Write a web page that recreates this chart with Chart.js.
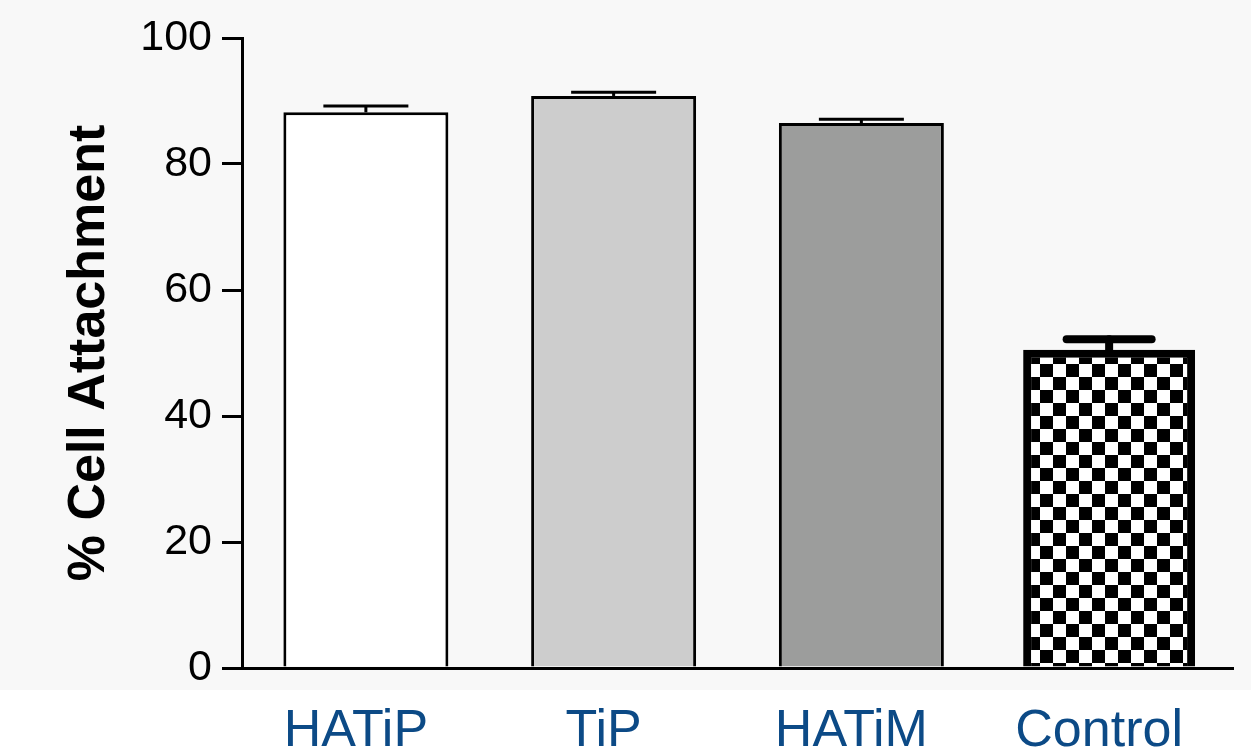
<!DOCTYPE html>
<html>
<head>
<meta charset="utf-8">
<title>% Cell Attachment</title>
<script src="https://cdn.jsdelivr.net/npm/chart.js@4.4.1/dist/chart.umd.min.js"></script>
<style>
  html, body { margin: 0; padding: 0; background: #ffffff; }
  #wrap { width: 1251px; height: 751px; }
</style>
</head>
<body>
<div id="wrap"><canvas id="chart" width="1251" height="751"></canvas></div>
<script>
// Surfaces tested and the share of cells attached to each (mean with upper SEM)
const categories = ['HATiP', 'TiP', 'HATiM', 'Control'];
const meanAttachment = [88.2, 90.8, 86.5, 50.5];
const upperError = [89.2, 91.4, 87.1, 52.2];
const yTicks = [0, 20, 40, 60, 80, 100];

const FONT = "'Liberation Sans', Arial, Helvetica, sans-serif";

// Black and white checkerboard for the control bar
function checkerPattern(size) {
  const c = document.createElement('canvas');
  c.width = size * 2;
  c.height = size * 2;
  const g = c.getContext('2d');
  g.fillStyle = '#ffffff';
  g.fillRect(0, 0, size * 2, size * 2);
  g.fillStyle = '#000000';
  g.fillRect(0, 0, size, size);
  g.fillRect(size, size, size, size);
  return g.createPattern(c, 'repeat');
}

const checker = checkerPattern(13);

// The three surfaces and the control are separate datasets
// so that the control can carry its own thicker outline.
const surfaceValues = meanAttachment.map((v, i) => (i < 3 ? v : null));
const controlValues = meanAttachment.map((v, i) => (i === 3 ? v : null));

const pageBackground = {
  id: 'pageBackground',
  beforeDraw(chart) {
    const { ctx, width, height } = chart;
    ctx.save();
    ctx.fillStyle = '#ffffff';
    ctx.fillRect(0, 0, width, height);
    ctx.fillStyle = '#f8f8f8';
    ctx.fillRect(0, 0, width, 690);
    ctx.restore();
  }
};

// Upper error bars: stem from the bar top to a cap at the error value
const errorBars = {
  id: 'errorBars',
  afterDatasetsDraw(chart) {
    const { ctx } = chart;
    const yScale = chart.scales.y;
    chart.data.datasets.forEach((ds, di) => {
      const meta = chart.getDatasetMeta(di);
      meta.data.forEach((bar, i) => {
        if (ds.data[i] == null) return;
        const top = yScale.getPixelForValue(upperError[i]);
        const half = 42.5;
        ctx.save();
        ctx.strokeStyle = '#000000';
        ctx.lineWidth = ds.errorWidth;
        ctx.lineCap = ds.errorCap;
        ctx.beginPath();
        ctx.moveTo(bar.x, bar.y);
        ctx.lineTo(bar.x, top);
        ctx.stroke();
        ctx.beginPath();
        ctx.moveTo(bar.x - half, top);
        ctx.lineTo(bar.x + half, top);
        ctx.stroke();
        ctx.restore();
      });
    });
  }
};

new Chart(document.getElementById('chart'), {
  type: 'bar',
  data: {
    labels: categories,
    datasets: [
      {
        data: surfaceValues,
        backgroundColor: ['#ffffff', '#cdcdcd', '#9c9d9c', '#ffffff'],
        borderColor: '#000000',
        borderWidth: 3,
        barPercentage: 0.666,
        categoryPercentage: 1,
        grouped: false,
        errorWidth: 3,
        errorCap: 'butt'
      },
      {
        data: controlValues,
        backgroundColor: checker,
        borderColor: '#000000',
        borderWidth: 8,
        barPercentage: 0.694,
        categoryPercentage: 1,
        grouped: false,
        errorWidth: 8,
        errorCap: 'round'
      }
    ]
  },
  options: {
    responsive: false,
    animation: false,
    devicePixelRatio: 1,
    layout: { padding: { left: 64, right: 18, top: 38, bottom: 0 } },
    plugins: {
      legend: { display: false },
      tooltip: { enabled: false }
    },
    scales: {
      x: {
        grid: { display: false, drawTicks: false },
        border: { display: true, color: '#000000', width: 3 },
        ticks: {
          color: '#0c4a86',
          font: { family: FONT, size: 52 },
          padding: 32,
          labelOffset: -10,
          maxRotation: 0,
          autoSkip: false
        },
        afterFit(scale) { scale.height = 83; }
      },
      y: {
        min: 0,
        max: 100,
        afterBuildTicks(scale) { scale.ticks = yTicks.map(v => ({ value: v })); },
        grid: {
          display: true,
          drawOnChartArea: false,
          drawTicks: true,
          tickLength: 20,
          lineWidth: 3,
          color: '#000000'
        },
        border: { display: true, color: '#000000', width: 3 },
        ticks: {
          color: '#000000',
          font: { family: FONT, size: 43, lineHeight: 1 },
          padding: 10
        },
        title: {
          display: true,
          text: '% Cell Attachment',
          color: '#000000',
          font: { family: FONT, size: 52, weight: 'bold', lineHeight: 1 },
          padding: { top: 0, bottom: 0 }
        },
        afterFit(scale) { scale.width = 178; }
      }
    }
  },
  plugins: [pageBackground, errorBars]
});
</script>
</body>
</html>
